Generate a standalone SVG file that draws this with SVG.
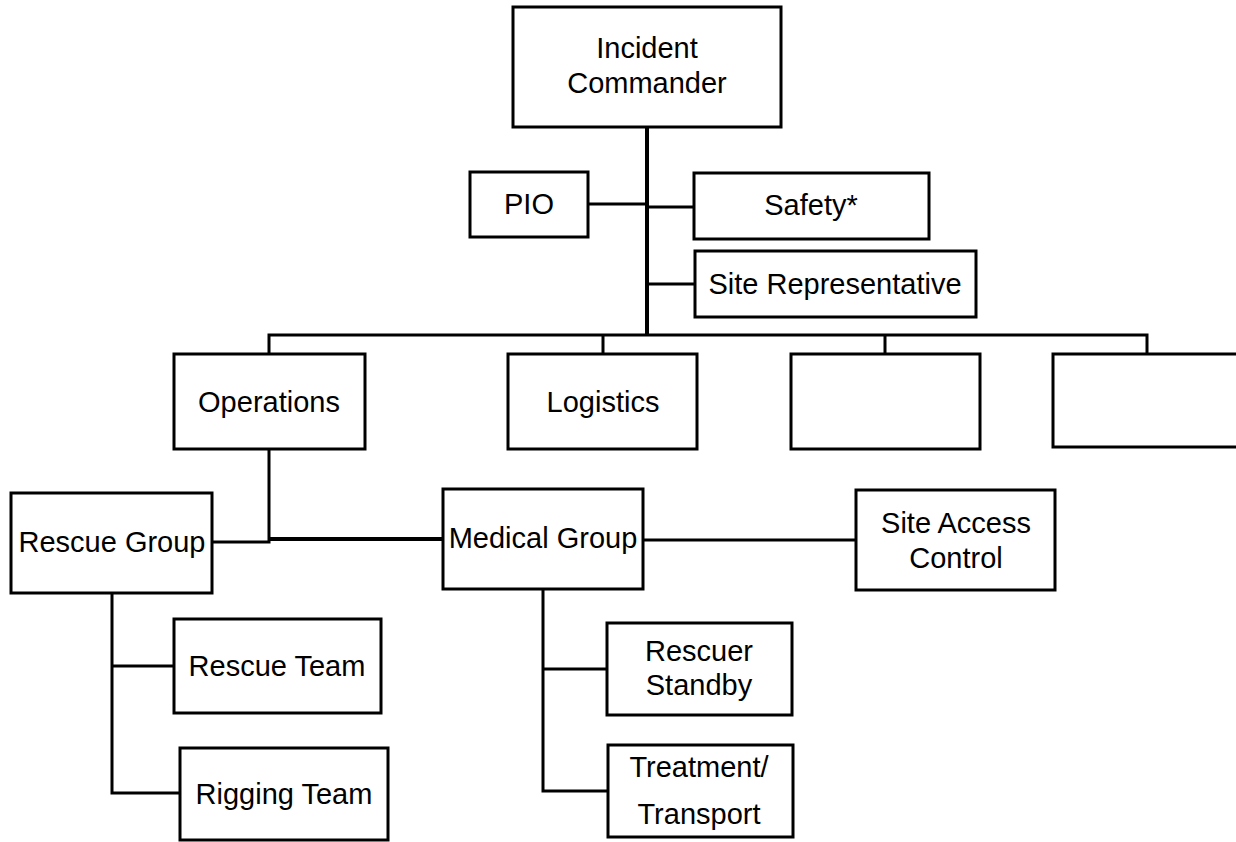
<svg xmlns="http://www.w3.org/2000/svg" width="1236" height="842" viewBox="0 0 1236 842">
<style>
.box{fill:#fff;stroke:#000;stroke-width:3}
.ln{fill:none;stroke:#000;stroke-width:3}
.thk{stroke-width:4}
text{font-family:"Liberation Sans",Arial,sans-serif;font-size:29px;fill:#000;text-anchor:middle}
</style>
<rect width="1236" height="842" fill="#fff"/>
<g id="connectors">
<path class="ln thk" d="M647 127V336"/>
<path class="ln" d="M269 354V335H1147V354M603 335V354M885 335V354"/>
<path class="ln" d="M588 204H647M647 207H694M647 284H695"/>
<path class="ln" d="M269 449V542H212"/>
<path class="ln thk" d="M269 539H443"/>
<path class="ln" d="M643 540H856"/>
<path class="ln" d="M112 593V793H180M112 666H174"/>
<path class="ln" d="M543 589V791H608M543 669H607"/>
</g>
<g id="incident-commander"><rect class="box" x="513" y="7" width="268" height="120"/><text x="647" y="58">Incident</text><text x="647" y="93">Commander</text></g>
<g id="pio"><rect class="box" x="470" y="172" width="118" height="65"/><text x="529" y="214">PIO</text></g>
<g id="safety"><rect class="box" x="694" y="173" width="235" height="66"/><text x="811" y="215">Safety*</text></g>
<g id="site-representative"><rect class="box" x="695" y="251" width="281" height="66"/><text x="835" y="294">Site Representative</text></g>
<g id="operations"><rect class="box" x="174" y="354" width="191" height="95"/><text x="269" y="412">Operations</text></g>
<g id="logistics"><rect class="box" x="508" y="354" width="189" height="95"/><text x="603" y="412">Logistics</text></g>
<g id="blank-1"><rect class="box" x="791" y="354" width="189" height="95"/></g>
<g id="blank-2"><rect class="box" x="1053" y="354" width="200" height="93"/></g>
<g id="rescue-group"><rect class="box" x="11" y="493" width="201" height="100"/><text x="112" y="552">Rescue Group</text></g>
<g id="medical-group"><rect class="box" x="443" y="489" width="200" height="100"/><text x="543" y="548">Medical Group</text></g>
<g id="site-access-control"><rect class="box" x="856" y="490" width="199" height="100"/><text x="956" y="533">Site Access</text><text x="956" y="568">Control</text></g>
<g id="rescue-team"><rect class="box" x="174" y="619" width="207" height="94"/><text x="277" y="676">Rescue Team</text></g>
<g id="rigging-team"><rect class="box" x="180" y="748" width="208" height="92"/><text x="284" y="804">Rigging Team</text></g>
<g id="rescuer-standby"><rect class="box" x="607" y="623" width="185" height="92"/><text x="699" y="661">Rescuer</text><text x="699" y="695">Standby</text></g>
<g id="treatment-transport"><rect class="box" x="608" y="745" width="185" height="92"/><text x="699" y="777">Treatment/</text><text x="699" y="824">Transport</text></g>
</svg>
